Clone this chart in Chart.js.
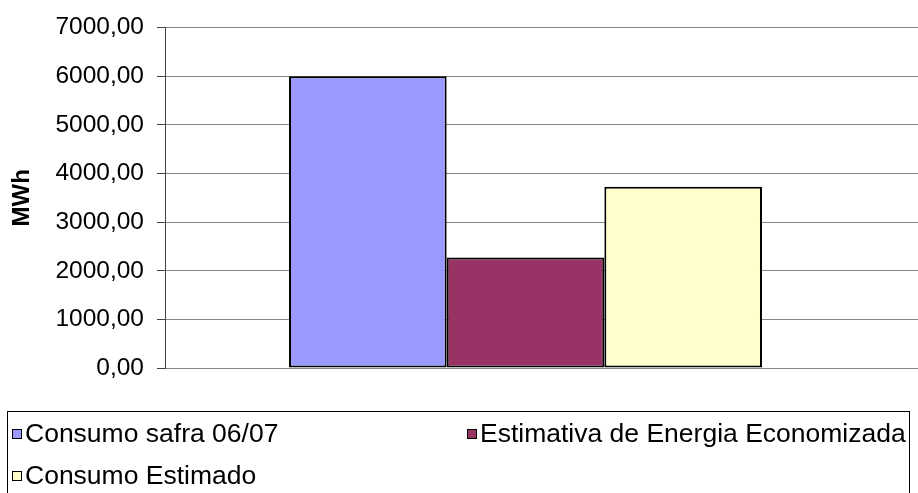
<!DOCTYPE html>
<html lang="pt-BR">
<head>
<meta charset="utf-8">
<title>Consumo de energia - MWh</title>
<script src="https://cdn.jsdelivr.net/npm/chart.js@4/dist/chart.umd.min.js"></script>
<style>
  html, body { margin: 0; padding: 0; background: #fff; }
  #wrap { position: relative; width: 918px; height: 493px; overflow: hidden; }
  #grafico { position: absolute; left: 0; top: 0; }
  #legenda {
    position: absolute; left: 7px; top: 411px; width: 903px; height: 90px;
    border: 1px solid #000; box-sizing: border-box;
    font-family: "Liberation Sans", Arial, sans-serif; font-size: 26.5px; color: #000;
  }
  .item { position: absolute; display: flex; align-items: center; white-space: nowrap; }
  .item i { display: inline-block; width: 8px; height: 8px; border: 1px solid #000; margin-right: 3px; }
</style>
</head>
<body>
<div id="wrap">
  <canvas id="grafico" width="918" height="493"></canvas>
  <div id="legenda"></div>
</div>
<script>
const categorias = [""];
const series = ["Consumo safra 06/07", "Estimativa de Energia Economizada", "Consumo Estimado"];
const consumoSafra = [6000];
const energiaEconomizada = [2272];
const consumoEstimado = [3728];
const cores = ["#9999FF", "#993366", "#FFFFCC"];
const ticksY = [0, 1000, 2000, 3000, 4000, 5000, 6000, 7000];

const valores = [consumoSafra, energiaEconomizada, consumoEstimado];

// as linhas de grade continuam até a borda direita do gráfico
const gradeEstendida = {
    id: "gradeEstendida",
    beforeDatasetsDraw(chart) {
        const { ctx, chartArea, scales: { y } } = chart;
        ctx.save();
        ctx.strokeStyle = "#888";
        ctx.lineWidth = 1;
        y.ticks.forEach((t, i) => {
            const py = Math.round(y.getPixelForTick(i) - 0.5) + 0.5;
            ctx.beginPath();
            ctx.moveTo(chartArea.right, py);
            ctx.lineTo(chart.width, py);
            ctx.stroke();
        });
        ctx.restore();
    }
};

new Chart(document.getElementById("grafico"), {
    type: "bar",
    data: {
        labels: categorias,
        datasets: series.map((nome, i) => ({
            label: nome,
            data: valores[i],
            backgroundColor: cores[i],
            borderColor: "#000",
            borderWidth: 2,
            borderSkipped: false,
            categoryPercentage: 0.656,
            barPercentage: 1
        }))
    },
    options: {
        responsive: false,
        animation: false,
        devicePixelRatio: 1,
        layout: {
            padding: { top: 18, right: 32, bottom: 125, left: 0 }
        },
        plugins: {
            legend: { display: false },
            tooltip: { enabled: false }
        },
        scales: {
            x: { display: false },
            y: {
                min: 0,
                max: 7000,
                afterBuildTicks: scale => {
                    scale.ticks = ticksY.map(v => ({ value: v }));
                },
                afterFit: scale => {
                    scale.width = 165;
                },
                border: { color: "#444", width: 1 },
                grid: { color: "#888", tickColor: "#444", tickLength: 8 },
                ticks: {
                    color: "#000",
                    padding: 13,
                    font: { family: "'Liberation Sans', Arial, sans-serif", size: 24.5 },
                    callback: value => Number(value).toFixed(2).replace(".", ",")
                },
                title: {
                    display: true,
                    text: "MWh",
                    color: "#000",
                    padding: { top: 8, bottom: 0 },
                    font: { family: "'Liberation Sans', Arial, sans-serif", size: 24, weight: "bold" }
                }
            }
        }
    },
    plugins: [gradeEstendida]
});

// legenda em duas colunas, como no quadro original
const posicoes = [[4, 22], [459, 22], [4, 64]];
const legenda = document.getElementById("legenda");
series.forEach((nome, i) => {
    const item = document.createElement("div");
    item.className = "item";
    item.style.left = posicoes[i][0] + "px";
    item.style.top = (posicoes[i][1] - 16) + "px";
    item.innerHTML = `<i style="background:${cores[i]}"></i><span></span>`;
    item.querySelector("span").textContent = nome;
    legenda.appendChild(item);
});
</script>
</body>
</html>
